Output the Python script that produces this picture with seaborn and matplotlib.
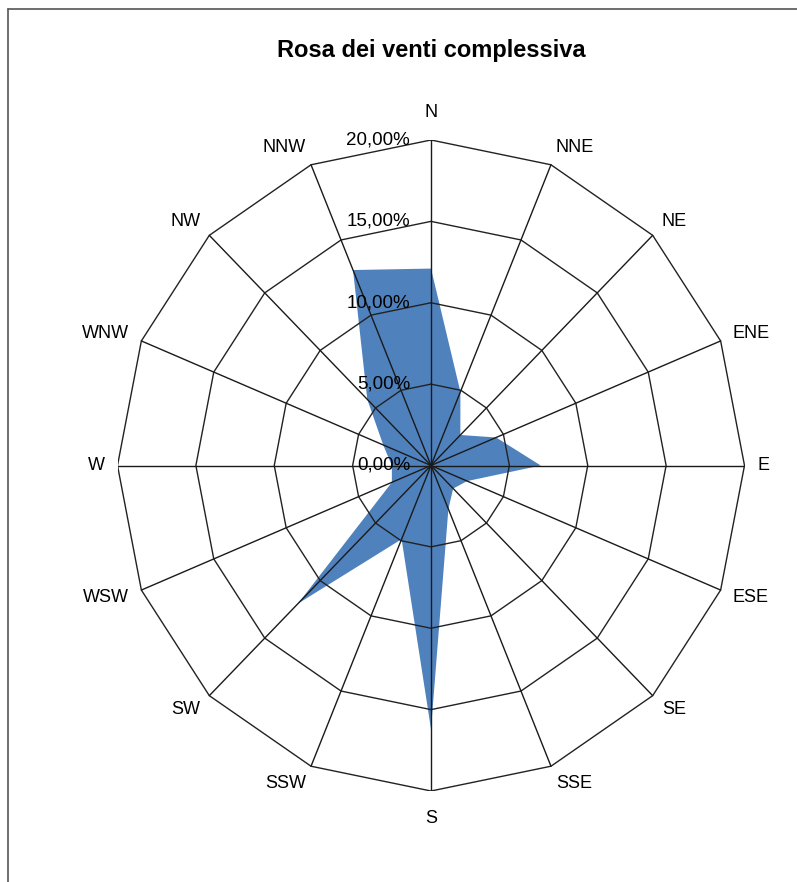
import numpy as np
import seaborn as sns
import matplotlib
matplotlib.use("Agg")
import matplotlib.pyplot as plt
from matplotlib.lines import Line2D
import matplotlib.transforms as mtransforms

# Wind directions and frequency (%)
directions = ['N', 'NNE', 'NE', 'ENE', 'E', 'ESE', 'SE', 'SSE',
              'S', 'SSW', 'SW', 'WSW', 'W', 'WNW', 'NW', 'NNW']
frequency = [12.1, 4.9, 2.65, 4.5, 7.0, 2.5, 2.0, 2.9,
             16.2, 4.9, 12.0, 2.7, 2.5, 3.3, 5.75, 13.0]
rings = [0, 5, 10, 15, 20]
ring_labels = ['0,00%', '5,00%', '10,00%', '15,00%', '20,00%']
title = 'Rosa dei venti complessiva'

sns.set_theme(style='white')
plt.rcParams['font.family'] = ['Liberation Sans', 'DejaVu Sans']

W, H = 797, 882
fig = plt.figure(figsize=(W / 100, H / 100), dpi=100)

# outer frame (only top and left edges fall inside the image)
fig.add_artist(Line2D([8 / W, 8 / W], [0, 1 - 9 / H], color='#555555', lw=1.2))
fig.add_artist(Line2D([8 / W, 1], [1 - 9 / H, 1 - 9 / H], color='#555555', lw=1.2))

# radar area, slightly taller than wide as in the original picture
cx, cy, rx, ry = 431, 465.5, 313.5, 325.5
ax = fig.add_axes([(cx - rx) / W, (H - cy - ry) / H, 2 * rx / W, 2 * ry / H])
rmax = rings[-1]
ax.set_xlim(-rmax, rmax)
ax.set_ylim(-rmax, rmax)
ax.set_axis_off()

n = len(directions)
theta = np.arange(n) * 2 * np.pi / n
sx, sy = np.sin(theta), np.cos(theta)
close = lambda a: np.append(a, a[0])

# filled series
vals = np.asarray(frequency)
ax.fill(close(vals * sx), close(vals * sy), color='#4F81BD', lw=0, zorder=2)

# polygon rings and spokes
for r in rings[1:]:
    ax.plot(close(r * sx), close(r * sy), color='#222222', lw=1.0, zorder=3)
for a, b in zip(sx, sy):
    ax.plot([0, rmax * a], [0, rmax * b], color='#1a1a1a', lw=1.0, zorder=3)

# ring value labels, left of the N spoke
off = mtransforms.offset_copy(ax.transData, fig=fig, x=-21, y=0, units='dots')
for r, lab in zip(rings, ring_labels):
    ax.text(0, r, lab, transform=off, ha='right', va='center',
            fontsize=13.5, color='black', zorder=4)

# direction labels just outside the outer ring
gx, gy = 13, 19
for a, b, lab in zip(sx, sy, directions):
    ha = 'left' if a > 0.2 else ('right' if a < -0.2 else 'center')
    va = 'center' if abs(b) < 0.99 else ('bottom' if b > 0 else 'top')
    tr = mtransforms.offset_copy(ax.transData, fig=fig, x=gx * a, y=gy * b, units='dots')
    ax.text(rmax * a, rmax * b, lab, transform=tr, ha=ha, va=va,
            fontsize=13, color='black')

fig.text(cx / W, 1 - 51 / H, title, ha='center', va='center',
         fontsize=17, fontweight='bold', color='black')

fig.savefig('out.png', dpi=100)
